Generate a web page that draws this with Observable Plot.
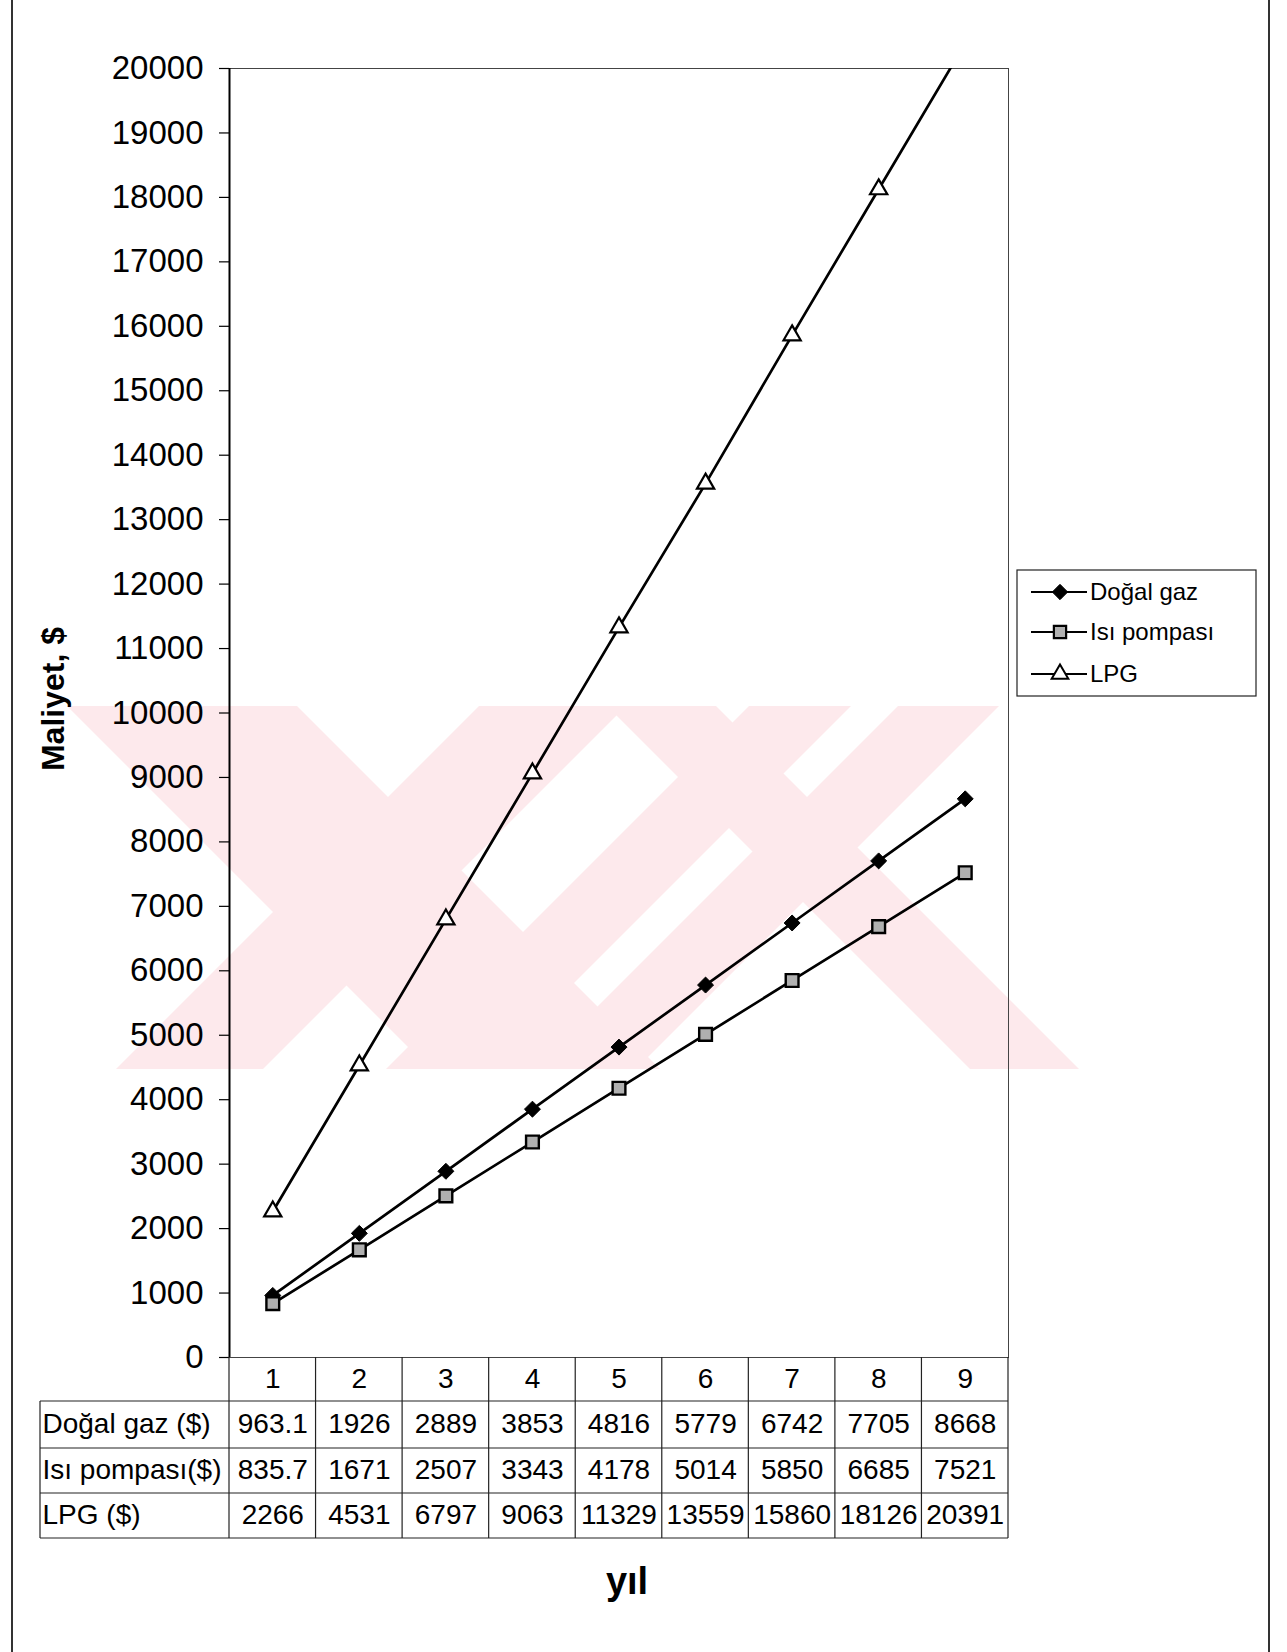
<!DOCTYPE html>
<html><head><meta charset="utf-8">
<script src="https://cdn.jsdelivr.net/npm/d3@7"></script>
<script src="https://cdn.jsdelivr.net/npm/@observablehq/plot@0.6"></script>
<style>html,body{margin:0;padding:0;background:#fff;} #chart svg{display:block}</style>
</head><body><div id="chart"></div>
<script>
// ---- data ----
const years = [1, 2, 3, 4, 5, 6, 7, 8, 9];
const dogalGaz = [963.1, 1926, 2889, 3853, 4816, 5779, 6742, 7705, 8668];
const isiPompasi = [835.7, 1671, 2507, 3343, 4178, 5014, 5850, 6685, 7521];
const lpg = [2266, 4531, 6797, 9063, 11329, 13559, 15860, 18126, 20391];
const seriesNames = ["Doğal gaz", "Isı pompası", "LPG"];
const rowLabels = ["Doğal gaz ($)", "Isı pompası($)", "LPG ($)"];
const yTicks = [0, 1000, 2000, 3000, 4000, 5000, 6000, 7000, 8000, 9000, 10000,
  11000, 12000, 13000, 14000, 15000, 16000, 17000, 18000, 19000, 20000];
const yLabel = "Maliyet, $";
const xLabel = "yıl";

const toRows = (vals) => years.map((yr, i) => ({year: yr, value: vals[i]}));
const dg = toRows(dogalGaz), ip = toRows(isiPompasi), lp = toRows(lpg);

const FONT = "'Liberation Sans', Arial, Helvetica, sans-serif";
const tableFont = 28;
// row offsets (px below the frame bottom) for the table rows' centres
const rowDy = [22, 67, 113, 158];

const rowText = (vals, dy) => Plot.text(vals, {
  x: (d, i) => years[i], text: (d) => String(d), frameAnchor: "bottom",
  lineAnchor: "middle", textAnchor: "middle",
  dy, fontSize: tableFont, fill: "black"
});
const rowLabel = (label, dy) => Plot.text([label], {
  frameAnchor: "bottom-left", textAnchor: "start", lineAnchor: "middle", dx: -187, dy,
  fontSize: tableFont, fill: "black"
});

const chart = Plot.plot({
  width: 1287, height: 1652,
  marginLeft: 229, marginRight: 279, marginTop: 68, marginBottom: 295,
  style: {fontFamily: FONT, background: "white", overflow: "visible", color: "black"},
  x: {domain: [0.5, 9.5], axis: null},
  y: {domain: [0, 20000], axis: null},
  marks: [
    Plot.frame({stroke: "#444", strokeWidth: 1}),
    Plot.axisY({ticks: yTicks, tickSize: 10, tickPadding: 16, fontSize: 33,
      tickFormat: (d) => String(d), label: null, stroke: "black", strokeWidth: 1.2}),
    Plot.ruleX([0.5], {stroke: "black", strokeWidth: 2}),
    Plot.line(dg, {x: "year", y: "value", stroke: "black", strokeWidth: 2.7, clip: true}),
    Plot.line(ip, {x: "year", y: "value", stroke: "black", strokeWidth: 2.7, clip: true}),
    Plot.line(lp, {x: "year", y: "value", stroke: "black", strokeWidth: 2.7, clip: true}),
    Plot.dot(dg, {x: "year", y: "value", symbol: "diamond2", r: 7.2, fill: "black", stroke: "black", strokeWidth: 1, clip: true}),
    Plot.dot(ip, {x: "year", y: "value", symbol: "square", r: 7.2, fill: "#b0b0b0", stroke: "black", strokeWidth: 2.4, clip: true}),
    Plot.dot(lp, {x: "year", y: "value", symbol: "triangle", r: 6.4, fill: "white", stroke: "black", strokeWidth: 2.2, clip: true}),
    // table
    rowText(years, rowDy[0]),
    rowText(dogalGaz, rowDy[1]),
    rowText(isiPompasi, rowDy[2]),
    rowText(lpg, rowDy[3]),
    rowLabel(rowLabels[0], rowDy[1]),
    rowLabel(rowLabels[1], rowDy[2]),
    rowLabel(rowLabels[2], rowDy[3]),
    // axis titles
    Plot.text([yLabel], {frameAnchor: "left", textAnchor: "middle", lineAnchor: "middle", dx: -176, dy: -14, rotate: -90, fontSize: 32, fontWeight: "bold", fill: "black"}),
    Plot.text([xLabel], {frameAnchor: "bottom", textAnchor: "middle", lineAnchor: "middle", dx: 8, dy: 224, fontSize: 38, fontWeight: "bold", fill: "black"})
  ]
});
document.getElementById("chart").appendChild(chart);

const svg = d3.select(chart);

// ---- faint pink watermark of the scanned page (decoration, behind everything) ----
const wmTop = 706, wmBottom = 1069, wmH = wmBottom - wmTop;
const wmDown = [[67, 297], [607, 716]];             // "\" stripes, x-range at the top edge
const wmUp = [[479, 626], [749, 851], [898, 999]];   // "/" stripes, x-range at the top edge
const wm = svg.insert("g", ":first-child").attr("fill", "#fde9ec").attr("stroke", "none");
wmDown.forEach(([a, b]) => wm.append("polygon")
  .attr("points", `${a},${wmTop} ${b},${wmTop} ${b + wmH},${wmBottom} ${a + wmH},${wmBottom}`));
wmUp.forEach(([a, b]) => wm.append("polygon")
  .attr("points", `${a},${wmTop} ${b},${wmTop} ${b - wmH},${wmBottom} ${a - wmH},${wmBottom}`));
svg.insert("rect", ":first-child").attr("width", 1287).attr("height", 1652).attr("fill", "white");

// ---- table grid & legend, positioned with the plot's own scales ----
const xs = chart.scale("x"), ys = chart.scale("y");
const X = (v) => xs.apply(v);
const yBase = ys.apply(0);
const rowH = [44, 47, 45, 45];
const rowY = [yBase];
rowH.forEach((h) => rowY.push(rowY[rowY.length - 1] + h));
const xRight = X(9.5), labelLeft = 40;

const grid = svg.append("g").attr("stroke", "#222").attr("stroke-width", 1.2).attr("fill", "none");
d3.range(0.5, 10, 1).forEach((b) => {
  grid.append("line").attr("x1", X(b)).attr("x2", X(b)).attr("y1", rowY[0]).attr("y2", rowY[4]);
});
grid.append("line").attr("x1", labelLeft).attr("x2", labelLeft).attr("y1", rowY[1]).attr("y2", rowY[4]);
for (let k = 1; k <= 4; k++) {
  grid.append("line").attr("x1", labelLeft).attr("x2", xRight).attr("y1", rowY[k]).attr("y2", rowY[k]);
}

// page border lines
const border = svg.append("g").attr("stroke", "#333").attr("stroke-width", 2);
border.append("line").attr("x1", 12).attr("x2", 12).attr("y1", 0).attr("y2", 1652);
border.append("line").attr("x1", 1269).attr("x2", 1269).attr("y1", 0).attr("y2", 1652);

// legend
const lg = svg.append("g").attr("font-family", FONT).attr("text-anchor", "start");
lg.append("rect").attr("x", 1017).attr("y", 570).attr("width", 239).attr("height", 126)
  .attr("fill", "white").attr("stroke", "#222").attr("stroke-width", 1.2);
const legendItems = [
  {name: seriesNames[0], y: 592, sym: d3.symbolDiamond2 || d3.symbolDiamond, size: 150, fill: "black", sw: 1},
  {name: seriesNames[1], y: 632, sym: d3.symbolSquare, size: 150, fill: "#b0b0b0", sw: 2.2},
  {name: seriesNames[2], y: 674, sym: d3.symbolTriangle, size: 120, fill: "white", sw: 2}
];
legendItems.forEach((it) => {
  lg.append("line").attr("x1", 1031).attr("x2", 1087).attr("y1", it.y).attr("y2", it.y)
    .attr("stroke", "black").attr("stroke-width", 2.2);
  lg.append("path").attr("d", d3.symbol(it.sym, it.size)()).attr("transform", `translate(1060,${it.y})`)
    .attr("fill", it.fill).attr("stroke", "black").attr("stroke-width", it.sw);
  lg.append("text").attr("x", 1090).attr("y", it.y).attr("dy", "0.35em").attr("font-size", 24)
    .attr("text-anchor", "start").attr("fill", "black").text(it.name);
});
</script>
</body></html>
